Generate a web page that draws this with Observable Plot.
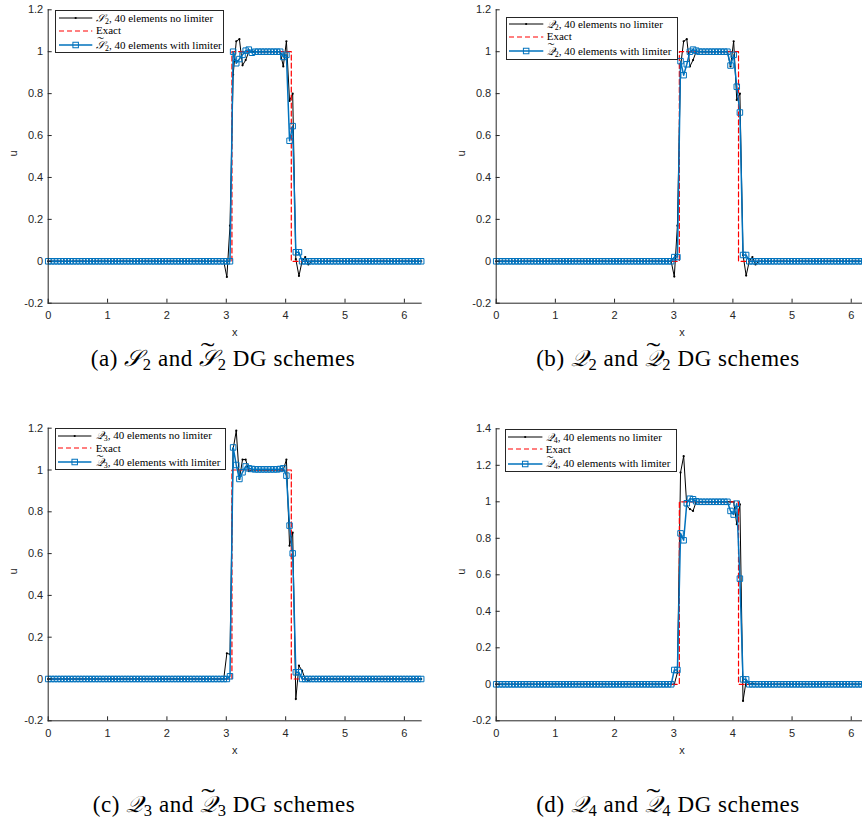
<!DOCTYPE html>
<html><head><meta charset="utf-8">
<script src="https://cdn.jsdelivr.net/npm/d3@7"></script>
<script src="https://cdn.jsdelivr.net/npm/@observablehq/plot@0.6"></script>
<style>
html,body{margin:0;padding:0;background:#fff;overflow:hidden}
#wrap{position:relative;width:862px;height:822px;overflow:hidden;background:#fff}
.panel{position:absolute}
.panel svg{max-width:none !important}
.legend{position:absolute;box-sizing:border-box;border:1px solid #262626;background:#fff}
.ltxt{position:absolute;height:12px;line-height:12px;white-space:nowrap;font-family:"Liberation Serif","DejaVu Serif",serif;font-size:11px;color:#000}
.samp{position:absolute}
.caption{position:absolute;font-family:"Liberation Serif","DejaVu Serif",serif;font-size:23px;letter-spacing:0.55px;transform:translate(-50%,-50%);white-space:nowrap;color:#000;line-height:1}
.m{font-family:"DejaVu Serif","Liberation Serif",serif;font-style:italic}
sub{font-size:0.72em;vertical-align:-0.28em;line-height:0}
.tl{position:relative;display:inline-block;line-height:1}
.tt{position:absolute;left:0;right:0;text-align:center;top:-0.3em;font-style:normal;transform:scaleX(1.8)}
</style></head><body><div id="wrap"></div>
<script>
// ---------------- data ----------------
const nNodes = 120;                 // plotting nodes over [0, 2*pi] (40 elements)
const xMax = 2 * Math.PI;
const xNodes = d3.range(nNodes).map(i => i * xMax / (nNodes - 1));

const exactX = [0, 3.095, 3.095, 4.095, 4.095, 6.2832];
const exactU = [0, 0, 1, 1, 0, 0];

// (a) S2
const noLimS2 = [
  0,0,0,0,0,0,0,0,0,0, 0,0,0,0,0,0,0,0,0,0, 0,0,0,0,0,0,0,0,0,0, 0,0,0,0,0,0,0,0,0,0, 0,0,0,0,0,0,0,0,0,0, 0,0,0,0,0,
  0,0,-0.075,0.17,0.89,1.05,1.06,0.935,0.96,1.0, 1,1,1,1,1,1,1,1,1,1, 0.93,1.05,0.765,0.80,0.01,-0.07,0,0.02,-0.015,0, 0,
  0,0,0,0,0,0,0,0,0,0, 0,0,0,0,0,0,0,0,0,0, 0,0,0,0,0,0,0,0,0,0, 0,0,0,0
];
const limS2 = [
  0,0,0,0,0,0,0,0,0,0, 0,0,0,0,0,0,0,0,0,0, 0,0,0,0,0,0,0,0,0,0, 0,0,0,0,0,0,0,0,0,0, 0,0,0,0,0,0,0,0,0,0, 0,0,0,0,0,
  0,0,0,0,1.0,0.945,0.965,0.985,1.005,1.01, 0.995,1,1,1,1,1,1,1,1,1, 0.975,0.985,0.575,0.645,0.043,0.043,0,0,0,0, 0,
  0,0,0,0,0,0,0,0,0,0, 0,0,0,0,0,0,0,0,0,0, 0,0,0,0,0,0,0,0,0,0, 0,0,0,0
];
// (b) Q2
const noLimQ2 = [
  0,0,0,0,0,0,0,0,0,0, 0,0,0,0,0,0,0,0,0,0, 0,0,0,0,0,0,0,0,0,0, 0,0,0,0,0,0,0,0,0,0, 0,0,0,0,0,0,0,0,0,0, 0,0,0,0,0,
  0,0,-0.073,0.17,0.93,1.05,1.06,0.93,0.96,1.0, 1,1,1,1,1,1,1,1,1,1, 0.93,1.05,0.77,0.80,0.03,-0.068,0,0.02,-0.015,0, 0,
  0,0,0,0,0,0,0,0,0,0, 0,0,0,0,0,0,0,0,0,0, 0,0,0,0,0,0,0,0,0,0, 0,0,0,0
];
const limQ2 = [
  0,0,0,0,0,0,0,0,0,0, 0,0,0,0,0,0,0,0,0,0, 0,0,0,0,0,0,0,0,0,0, 0,0,0,0,0,0,0,0,0,0, 0,0,0,0,0,0,0,0,0,0, 0,0,0,0,0,
  0,0,0.02,0.02,0.955,0.888,0.94,1.0,1.01,1.005, 1,1,1,1,1,1,1,1,1,1, 0.934,0.985,0.833,0.71,0.03,0.03,0,0,0,0, 0,
  0,0,0,0,0,0,0,0,0,0, 0,0,0,0,0,0,0,0,0,0, 0,0,0,0,0,0,0,0,0,0, 0,0,0,0
];
// (c) Q3
const noLimQ3 = [
  0,0,0,0,0,0,0,0,0,0, 0,0,0,0,0,0,0,0,0,0, 0,0,0,0,0,0,0,0,0,0, 0,0,0,0,0,0,0,0,0,0, 0,0,0,0,0,0,0,0,0,0, 0,0,0,0,0,
  0,0,0.123,0.118,1.10,1.188,0.957,1.05,1.05,0.995, 1,1,1,1,1,1,1,1,1,1, 1.0,1.05,0.638,0.70,-0.096,0.064,0.04,0,-0.008,0, 0,
  0,0,0,0,0,0,0,0,0,0, 0,0,0,0,0,0,0,0,0,0, 0,0,0,0,0,0,0,0,0,0, 0,0,0,0
];
const limQ3 = [
  0,0,0,0,0,0,0,0,0,0, 0,0,0,0,0,0,0,0,0,0, 0,0,0,0,0,0,0,0,0,0, 0,0,0,0,0,0,0,0,0,0, 0,0,0,0,0,0,0,0,0,0, 0,0,0,0,0,
  0,0,0,0.013,1.108,1.024,0.957,0.989,1.017,1.008, 1.005,1.003,1.003,1.003,1.003,1.003,1.003,1.003,1.003,1.005, 1.008,0.973,0.734,0.601,0.032,0.032,0,0,0,0, 0,
  0,0,0,0,0,0,0,0,0,0, 0,0,0,0,0,0,0,0,0,0, 0,0,0,0,0,0,0,0,0,0, 0,0,0,0
];
// (d) Q4
const noLimQ4 = [
  0,0,0,0,0,0,0,0,0,0, 0,0,0,0,0,0,0,0,0,0, 0,0,0,0,0,0,0,0,0,0, 0,0,0,0,0,0,0,0,0,0, 0,0,0,0,0,0,0,0,0,0, 0,0,0,0,0,
  0,0,0,0.064,1.16,1.25,0.977,0.96,0.95,1.0, 1,1,1,1,1,1,1,1,1,1, 1.0,1.0,0.877,0.986,-0.091,0.018,0,0.005,0,0, 0,
  0,0,0,0,0,0,0,0,0,0, 0,0,0,0,0,0,0,0,0,0, 0,0,0,0,0,0,0,0,0,0, 0,0,0,0
];
const limQ4 = [
  0,0,0,0,0,0,0,0,0,0, 0,0,0,0,0,0,0,0,0,0, 0,0,0,0,0,0,0,0,0,0, 0,0,0,0,0,0,0,0,0,0, 0,0,0,0,0,0,0,0,0,0, 0,0,0,0,0,
  0,0,0.0785,0.0785,0.827,0.789,0.992,1.017,1.014,1.003, 1,1,1,1,1,1,1,1,1,1, 0.95,0.93,0.99,0.579,0.027,0.027,0,0,0,0, 0,
  0,0,0,0,0,0,0,0,0,0, 0,0,0,0,0,0,0,0,0,0, 0,0,0,0,0,0,0,0,0,0, 0,0,0,0
];

const xTicks = [0, 1, 2, 3, 4, 5, 6];
const yTicks12 = [-0.2, 0, 0.2, 0.4, 0.6, 0.8, 1, 1.2];
const yTicks14 = [-0.2, 0, 0.2, 0.4, 0.6, 0.8, 1, 1.2, 1.4];

const seriesNames = ["40 elements no limiter", "Exact", "40 elements with limiter"];
const schemeLetters = ["𝒮", "𝒬", "𝒬", "𝒬"];
const schemeOrders = ["2", "2", "3", "4"];
const panelTags = ["(a)", "(b)", "(c)", "(d)"];

// ---------------- drawing ----------------
const AX = "#262626", BLUE = "#0072BD", RED = "#ff0000";
const wrap = document.getElementById("wrap");

const panels = [
  {left: 0,   top: 0,   width: 430, height: 340, ml: 47.7, mr: 9.3, mt: 9.3,  mb: 37.3, yDomain: [-0.2, 1.2], yTicks: yTicks12, noLim: noLimS2, lim: limS2,
   leg: {x: 55, y: 10, w: 169, h: 43, rows: [18.3, 30.8, 45], s0: 59, s1: 92.3, tx: 96}, cap: {x: 223, y: 358}},
  {left: 430, top: 0,   width: 440, height: 340, ml: 65.7, mr: 2.5, mt: 9.3,  mb: 37.3, yDomain: [-0.2, 1.2], yTicks: yTicks12, noLim: noLimQ2, lim: limQ2,
   leg: {x: 505.7, y: 16.7, w: 172, h: 43, rows: [24.3, 36.8, 51], s0: 509, s1: 543.3, tx: 546.7}, cap: {x: 668, y: 358}},
  {left: 0,   top: 415, width: 430, height: 340, ml: 47.7, mr: 9.3, mt: 12.7, mb: 34.7, yDomain: [-0.2, 1.2], yTicks: yTicks12, noLim: noLimQ3, lim: limQ3,
   leg: {x: 54.7, y: 428.3, w: 171.5, h: 42, rows: [435.7, 448.3, 462.3], s0: 58.3, s1: 91.7, tx: 95.7}, cap: {x: 224, y: 804}},
  {left: 430, top: 415, width: 440, height: 340, ml: 65.7, mr: 2.5, mt: 13.3, mb: 34.7, yDomain: [-0.2, 1.4], yTicks: yTicks14, noLim: noLimQ4, lim: limQ4,
   leg: {x: 505, y: 429.3, w: 172, h: 43, rows: [437, 449.3, 463.7], s0: 508.3, s1: 542.7, tx: 545.7}, cap: {x: 668, y: 804}}
];

const fmt = d => String(Math.round(d * 10) / 10);
const exact = exactX.map((x, i) => ({x, u: exactU[i]}));

function tilde(letter) {
  return `<span class="tl"><span class="m">${letter}</span><span class="tt">˜</span></span>`;
}

panels.forEach((p, k) => {
  const innerW = p.width - p.ml - p.mr;
  const innerH = p.height - p.mt - p.mb;
  const noLim = xNodes.map((x, i) => ({x, u: p.noLim[i]}));
  const lim = xNodes.map((x, i) => ({x, u: p.lim[i]}));
  const chart = Plot.plot({
    width: p.width, height: p.height,
    marginLeft: p.ml, marginRight: p.mr, marginTop: p.mt, marginBottom: p.mb,
    style: {fontFamily: "'Liberation Sans', Arial, sans-serif", fontSize: "11px", color: AX, background: "transparent", overflow: "visible"},
    x: {domain: [0, xMax]},
    y: {domain: p.yDomain},
    marks: [
      Plot.line(noLim, {x: "x", y: "u", stroke: "#000", strokeWidth: 1}),
      Plot.dot(noLim, {x: "x", y: "u", r: 1.1, fill: "#000", stroke: null}),
      Plot.line(exact, {x: "x", y: "u", stroke: RED, strokeWidth: 1.2, strokeDasharray: "5,3"}),
      Plot.line(lim, {x: "x", y: "u", stroke: BLUE, strokeWidth: 1.5}),
      Plot.dot(lim, {x: "x", y: "u", symbol: "square", r: 3.1, stroke: BLUE, strokeWidth: 1, fill: "none"}),
      Plot.frame({anchor: "left", stroke: AX}),
      Plot.frame({anchor: "bottom", stroke: AX}),
      Plot.tickX(xTicks, {x: d => d, insetTop: innerH - 4, stroke: AX}),
      Plot.tickY(p.yTicks, {y: d => d, insetRight: innerW - 4, stroke: AX}),
      Plot.axisX(xTicks, {tickSize: 0, tickPadding: 8, tickFormat: fmt, label: null, fill: AX}),
      Plot.axisY(p.yTicks, {tickSize: 0, tickPadding: 5, tickFormat: fmt, label: null, fill: AX}),
      Plot.text(["x"], {text: d => d, frameAnchor: "bottom", dy: 33, fill: AX, fontSize: 11}),
      Plot.text(["u"], {text: d => d, frameAnchor: "left", dx: -35, rotate: -90, fill: AX, fontSize: 11})
    ]
  });
  const div = document.createElement("div");
  div.className = "panel";
  div.style.left = p.left + "px";
  div.style.top = p.top + "px";
  div.appendChild(chart);
  wrap.appendChild(div);

  // legend
  const L = p.leg;
  const box = document.createElement("div");
  box.className = "legend";
  Object.assign(box.style, {left: L.x + "px", top: L.y + "px", width: L.w + "px", height: L.h + "px"});
  wrap.appendChild(box);
  const letter = schemeLetters[k], ord = schemeOrders[k];
  const labels = [
    `<span class="m">${letter}</span><sub>${ord}</sub>, ${seriesNames[0]}`,
    seriesNames[1],
    `${tilde(letter)}<sub>${ord}</sub>, ${seriesNames[2]}`
  ];
  L.rows.forEach((ry, j) => {
    const t = document.createElement("div");
    t.className = "ltxt";
    t.style.left = L.tx + "px";
    t.style.top = (ry - 6.5) + "px";
    t.innerHTML = labels[j];
    wrap.appendChild(t);
    const w = L.s1 - L.s0;
    const svg = d3.create("svg").attr("class", "samp").attr("width", w).attr("height", 10)
      .style("left", L.s0 + "px").style("top", (ry - 5) + "px").style("overflow", "visible");
    if (j === 0) {
      svg.append("line").attr("x1", 0).attr("x2", w).attr("y1", 5).attr("y2", 5).attr("stroke", "#000").attr("stroke-width", 1);
      svg.append("circle").attr("cx", w / 2).attr("cy", 5).attr("r", 1.1).attr("fill", "#000");
    } else if (j === 1) {
      svg.append("line").attr("x1", 0).attr("x2", w).attr("y1", 5).attr("y2", 5).attr("stroke", RED).attr("stroke-width", 1.2).attr("stroke-dasharray", "5,3");
    } else {
      svg.append("line").attr("x1", 0).attr("x2", w).attr("y1", 5).attr("y2", 5).attr("stroke", BLUE).attr("stroke-width", 1.5);
      svg.append("rect").attr("x", w / 2 - 2.75).attr("y", 2.25).attr("width", 5.5).attr("height", 5.5).attr("fill", "none").attr("stroke", BLUE);
    }
    wrap.appendChild(svg.node());
  });

  // caption
  const cap = document.createElement("div");
  cap.className = "caption";
  cap.style.left = p.cap.x + "px";
  cap.style.top = p.cap.y + "px";
  cap.innerHTML = `${panelTags[k]} <span class="m">${letter}</span><sub>${ord}</sub> and ${tilde(letter)}<sub>${ord}</sub> DG schemes`;
  wrap.appendChild(cap);
});
</script>
</body></html>
